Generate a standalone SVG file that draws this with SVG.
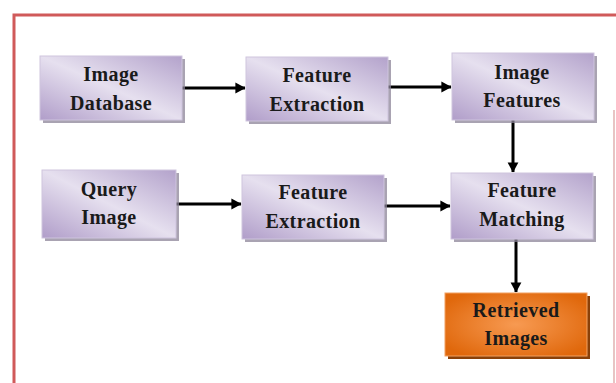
<svg xmlns="http://www.w3.org/2000/svg" width="616" height="383" viewBox="0 0 616 383">
<style>
.box{fill:url(#lav);stroke:#cfc5de;stroke-width:1}
.sh{fill:#8c8498;opacity:0.75}
.osh{fill:#8a4008}
.obox{fill:url(#org);stroke:#f2a060;stroke-width:1}
.t{font-family:"Liberation Serif","Times New Roman",serif;font-weight:bold;font-size:20px;letter-spacing:0.4px;fill:#1a1a1a;text-anchor:middle}
.c{stroke:#000;stroke-width:3;fill:none;marker-end:url(#ah)}
</style>
<defs>
<linearGradient id="lav" x1="0" y1="1" x2="1" y2="0">
<stop offset="0" stop-color="#b09dc9"/>
<stop offset="0.5" stop-color="#e6e0ef"/>
<stop offset="1" stop-color="#b3a2cb"/>
</linearGradient>
<radialGradient id="org" cx="0.5" cy="0.5" r="0.6">
<stop offset="0" stop-color="#f79a52"/>
<stop offset="1" stop-color="#e0680c"/>
</radialGradient>
<marker id="ah" markerWidth="4" markerHeight="4" refX="3.2" refY="2" orient="auto" markerUnits="strokeWidth">
<path d="M0,0.2 L3.4,2 L0,3.8 Z" fill="#000"/>
</marker>
</defs>
<rect x="0" y="0" width="616" height="383" fill="#fff"/>
<path d="M14,390 L14,15 L640,15" fill="none" stroke="#d05a5a" stroke-width="3"/>
<line x1="614" y1="110" x2="614" y2="383" stroke="#e0b0b0" stroke-width="1.5"/>
<g id="connectors">
<line class="c" x1="182" y1="88" x2="245" y2="88"/>
<line class="c" x1="388" y1="87" x2="451" y2="87"/>
<line class="c" x1="513" y1="120" x2="513" y2="172"/>
<line class="c" x1="176" y1="204" x2="241" y2="204"/>
<line class="c" x1="384" y1="206" x2="450" y2="206"/>
<line class="c" x1="516" y1="239" x2="516" y2="292"/>
</g>
<g id="image-database">
<rect class="sh" x="43" y="59" width="142" height="64"/>
<rect class="box" x="40" y="56" width="142" height="64"/>
<text class="t" x="111" y="81">Image</text>
<text class="t" x="111" y="110">Database</text>
</g>
<g id="feature-extraction-1">
<rect class="sh" x="249" y="60" width="142" height="64"/>
<rect class="box" x="246" y="57" width="142" height="64"/>
<text class="t" x="317" y="82">Feature</text>
<text class="t" x="317" y="111">Extraction</text>
</g>
<g id="image-features">
<rect class="sh" x="455" y="56" width="142" height="67"/>
<rect class="box" x="452" y="53" width="142" height="67"/>
<text class="t" x="522" y="79">Image</text>
<text class="t" x="522" y="107">Features</text>
</g>
<g id="query-image">
<rect class="sh" x="45" y="173" width="134" height="68"/>
<rect class="box" x="42" y="170" width="134" height="68"/>
<text class="t" x="109" y="196">Query</text>
<text class="t" x="109" y="224">Image</text>
</g>
<g id="feature-extraction-2">
<rect class="sh" x="245" y="178" width="142" height="64"/>
<rect class="box" x="242" y="175" width="142" height="64"/>
<text class="t" x="313" y="199">Feature</text>
<text class="t" x="313" y="228">Extraction</text>
</g>
<g id="feature-matching">
<rect class="sh" x="454" y="176" width="142" height="66"/>
<rect class="box" x="451" y="173" width="142" height="66"/>
<text class="t" x="522" y="197">Feature</text>
<text class="t" x="522" y="226">Matching</text>
</g>
<g id="retrieved-images">
<rect class="osh" x="448" y="296" width="142" height="63"/>
<rect class="obox" x="445" y="293" width="142" height="63"/>
<text class="t" x="516" y="317">Retrieved</text>
<text class="t" x="516" y="345">Images</text>
</g>
</svg>
